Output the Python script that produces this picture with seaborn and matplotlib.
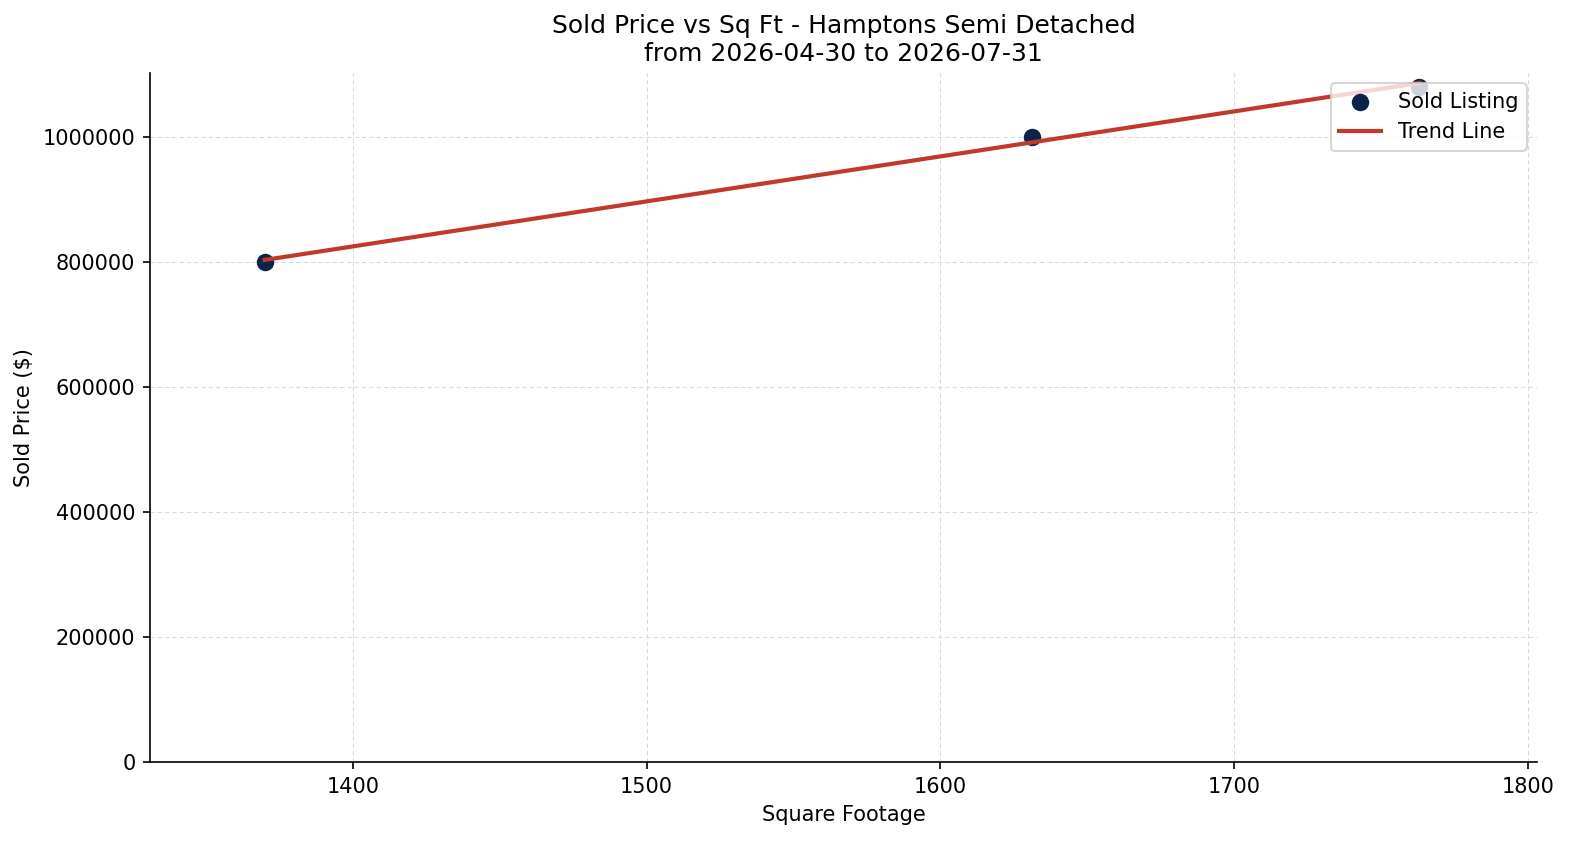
import numpy as np
import pandas as pd
import matplotlib
matplotlib.use("Agg")
import matplotlib.pyplot as plt
import seaborn as sns

# data
sqft = [1370, 1631, 1763]
sold_price = [800000, 1000000, 1080000]

df = pd.DataFrame({"sqft": sqft, "price": sold_price})

plt.rcParams['font.family'] = ['DejaVu Sans']

fig, ax = plt.subplots(figsize=(1577 / 150, 845 / 150), dpi=150)

sns.scatterplot(data=df, x="sqft", y="price", color="#0b2347", s=60,
                edgecolor="#0b2347", label="Sold Listing", ax=ax, zorder=3)

# linear trend line
slope, intercept = np.polyfit(df["sqft"], df["price"], 1)
xs = np.array([df["sqft"].min(), df["sqft"].max()])
sns.lineplot(x=xs, y=slope * xs + intercept, color="#c0392b", linewidth=2,
             label="Trend Line", ax=ax, zorder=4)

ax.set_xlim(1331, 1803)
ax.set_ylim(0, 1102000)
ax.ticklabel_format(style="plain", axis="y")
ax.grid(True, linestyle="--", linewidth=0.5, color="#d8d8d8", dashes=(4, 3))
ax.set_axisbelow(True)
sns.despine(ax=ax)

ax.set_title("Sold Price vs Sq Ft - Hamptons Semi Detached\nfrom 2026-04-30 to 2026-07-31")
ax.set_xlabel("Square Footage")
ax.set_ylabel("Sold Price ($)")
ax.legend(loc="upper right")

fig.subplots_adjust(left=0.0951, right=0.9746, top=0.9136, bottom=0.0982)
plt.savefig("out.png", dpi=150)
plt.close()
